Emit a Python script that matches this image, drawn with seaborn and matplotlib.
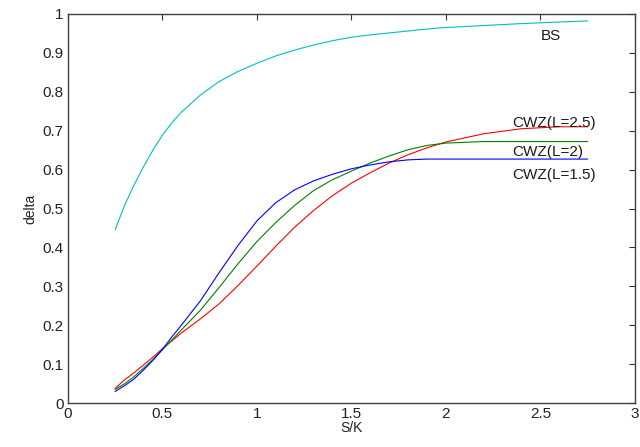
import numpy as np
import pandas as pd
import matplotlib
matplotlib.use('Agg')
import matplotlib.pyplot as plt
import seaborn as sns

# ───────────── Данные ─────────────
S_K = [0.25, 0.30, 0.35, 0.40, 0.45, 0.50, 0.55, 0.60, 0.70, 0.80, 0.90,
       1.00, 1.10, 1.20, 1.30, 1.40, 1.50, 1.60, 1.70, 1.80, 1.90, 2.00,
       2.20, 2.40, 2.60, 2.75]

BS = [0.445, 0.508, 0.560, 0.607, 0.650, 0.688, 0.720, 0.747, 0.791, 0.826, 0.852,
      0.873, 0.892, 0.907, 0.920, 0.931, 0.940, 0.946, 0.951, 0.956, 0.961, 0.965,
      0.970, 0.975, 0.979, 0.982]

CWZ_25 = [0.038, 0.060, 0.078, 0.098, 0.118, 0.140, 0.160, 0.180, 0.216, 0.255, 0.302,
          0.352, 0.403, 0.452, 0.495, 0.533, 0.565, 0.592, 0.617, 0.638, 0.656, 0.671,
          0.692, 0.705, 0.710, 0.710]

CWZ_2 = [0.035, 0.050, 0.068, 0.090, 0.112, 0.137, 0.162, 0.188, 0.238, 0.297, 0.358,
         0.415, 0.464, 0.508, 0.546, 0.574, 0.596, 0.617, 0.635, 0.651, 0.662, 0.668,
         0.672, 0.672, 0.672, 0.672]

CWZ_15 = [0.030, 0.045, 0.062, 0.085, 0.110, 0.138, 0.170, 0.200, 0.262, 0.335, 0.405,
          0.468, 0.515, 0.548, 0.571, 0.588, 0.602, 0.612, 0.620, 0.625, 0.627, 0.627,
          0.627, 0.627, 0.627, 0.627]

SERIES = ['BS', 'CWZ(L=2.5)', 'CWZ(L=2)', 'CWZ(L=1.5)']
COLORS = ['#00bfbf', '#ff0000', '#008000', '#0000ff']

# подписи кривых (x, y)
LABEL_POS = {
    'BS': (2.50, 0.943),
    'CWZ(L=2.5)': (2.35, 0.720),
    'CWZ(L=2)': (2.35, 0.645),
    'CWZ(L=1.5)': (2.35, 0.586),
}

df = pd.concat([
    pd.DataFrame({'S/K': S_K, 'delta': vals, 'model': name})
    for name, vals in zip(SERIES, [BS, CWZ_25, CWZ_2, CWZ_15])
])

sns.set_style('white')
plt.rcParams['font.family'] = ['Liberation Sans', 'DejaVu Sans']

fig = plt.figure(figsize=(6.4, 4.47), dpi=100)
ax = fig.add_axes([0.106, 0.098, 0.886, 0.871])

sns.lineplot(data=df, x='S/K', y='delta', hue='model', hue_order=SERIES,
             palette=dict(zip(SERIES, COLORS)), linewidth=0.8, ax=ax, legend=False)

for name, (tx, ty) in LABEL_POS.items():
    ax.text(tx, ty, name, fontsize=11, va='center', ha='left', color='#1a1a1a')

ax.set_xlim(0, 3)
ax.set_ylim(0, 1)
ax.set_xticks(np.arange(0, 3.01, 0.5))
ax.set_xticklabels(['0', '0.5', '1', '1.5', '2', '2.5', '3'])
ax.set_yticks(np.arange(0, 1.01, 0.1))
ax.set_yticklabels(['0', '0.1', '0.2', '0.3', '0.4', '0.5', '0.6', '0.7', '0.8', '0.9', '1'])
ax.tick_params(direction='in', length=4, width=0.8, top=True, right=True,
               labelsize=11, colors='#333333', labelcolor='#222222', pad=3)
ax.set_xlabel('S/K', fontsize=10, labelpad=0, color='#222222')
ax.set_ylabel('delta', fontsize=10, labelpad=4, color='#222222')

for sp in ax.spines.values():
    sp.set_visible(True)
    sp.set_color('#404040')
    sp.set_linewidth(1.0)

fig.savefig('out.png', dpi=100, facecolor='white')
